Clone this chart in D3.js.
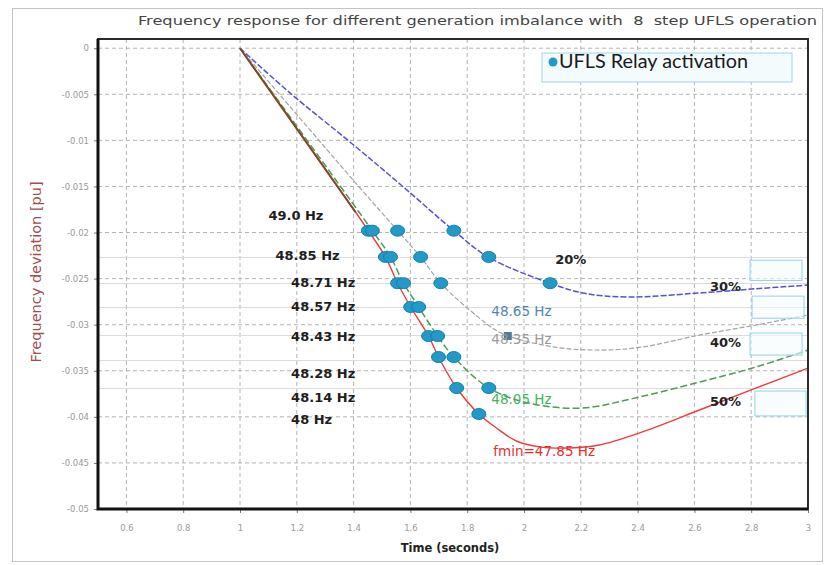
<!DOCTYPE html>
<html>
<head>
<meta charset="utf-8">
<script src="https://cdn.jsdelivr.net/npm/d3@7"></script>
<style>
    body { margin: 0; background: #fff; }
    text { font-family: "DejaVu Sans", sans-serif; }
    .tick-label { fill: #9a9a9a; font-size: 8.5px; }
    .grid { stroke: #b4b4b4; stroke-dasharray: 4 3; stroke-width: 1; }
    .freq-label { font-size: 13px; font-weight: bold; fill: #1e1e1e; }
    .pct-label { font-size: 13px; font-weight: bold; fill: #222; }
</style>
</head>
<body>
<div id="wrapper"></div>
<script>

    // 1. data
    const xTicks = [0.6, 0.8, 1, 1.2, 1.4, 1.6, 1.8, 2, 2.2, 2.4, 2.6, 2.8, 3];
    const xTickLabels = ["0.6", "0.8", "1", "1.2", "1.4", "1.6", "1.8", "2", "2.2", "2.4", "2.6", "2.8", "3"];
    const yTicks = [0, -0.005, -0.01, -0.015, -0.02, -0.025, -0.03, -0.035, -0.04, -0.045, -0.05];
    const yTickLabels = ["0", "-0.005", "-0.01", "-0.015", "-0.02", "-0.025", "-0.03", "-0.035", "-0.04", "-0.045", "-0.05"];

    // [time (s), deviation (pu)]
    const curve20 = [[1, 0], [1.177, -0.00488], [1.4, -0.0105], [1.577, -0.0151], [1.753, -0.0198],
        [1.876, -0.0227], [2.092, -0.0255], [2.214, -0.0266], [2.37, -0.0270], [2.60, -0.0266],
        [2.816, -0.0261], [3.0, -0.0257]];
    const curve30 = [[1, 0], [1.414, -0.01486], [1.555, -0.0198], [1.636, -0.02265], [1.707, -0.0255],
        [1.839, -0.02918], [1.920, -0.03091], [2.108, -0.03243], [2.274, -0.03275], [2.416, -0.03243],
        [2.618, -0.03113], [2.816, -0.03004], [3.0, -0.02896]];
    const curve40 = [[1, 0], [1.466, -0.0198], [1.530, -0.02265], [1.576, -0.0255], [1.629, -0.02808],
        [1.696, -0.03123], [1.753, -0.03351], [1.876, -0.03687], [2.016, -0.0385], [2.204, -0.03905],
        [2.405, -0.03785], [2.618, -0.03623], [2.816, -0.0346], [3.0, -0.03275]];
    const curve50 = [[1, 0], [1.452, -0.0198], [1.512, -0.02265], [1.555, -0.0255], [1.601, -0.02808],
        [1.664, -0.03123], [1.699, -0.03351], [1.763, -0.03687], [1.841, -0.03969], [1.903, -0.04121],
        [1.973, -0.04262], [2.062, -0.04328], [2.18, -0.04335], [2.264, -0.04306], [2.405, -0.04176],
        [2.618, -0.03926], [2.816, -0.03688], [3.0, -0.03471]];
    const initialDrop = [[1, 0], [1.407, -0.0178]];

    const relayDots = [
        [1.452, -0.0198], [1.466, -0.0198], [1.555, -0.0198], [1.753, -0.0198],
        [1.512, -0.02265], [1.530, -0.02265], [1.636, -0.02265], [1.876, -0.02265],
        [1.555, -0.0255], [1.576, -0.0255], [1.707, -0.0255], [2.092, -0.0255],
        [1.601, -0.02808], [1.629, -0.02808],
        [1.664, -0.03123], [1.696, -0.03123],
        [1.699, -0.03351], [1.753, -0.03351],
        [1.763, -0.03687], [1.876, -0.03687],
        [1.841, -0.03969]
    ];
    const squareMarker = [1.943, -0.03123];

    const freqLabels = ["49.0 Hz", "48.85 Hz", "48.71 Hz", "48.57 Hz", "48.43 Hz", "48.28 Hz", "48.14 Hz", "48 Hz"];
    const freqLabelPos = [[1.1, -0.0181], [1.125, -0.02245], [1.18, -0.02545], [1.18, -0.02805],
        [1.18, -0.0313], [1.18, -0.0353], [1.18, -0.0379], [1.18, -0.0403]];

    const pctLabels = ["20%", "30%", "40%", "50%"];
    const pctLabelPos = [[2.11, -0.0229], [2.655, -0.0259], [2.655, -0.0319], [2.655, -0.0383]];

    const minLabels = ["48.65 Hz", "48.35 Hz", "48.05 Hz", "fmin=47.85 Hz"];
    const minLabelPos = [[1.885, -0.0285], [1.885, -0.0316], [1.885, -0.0381], [1.892, -0.0437]];
    const minLabelColors = ["#4f86b8", "#9a9a9a", "#3fb45a", "#e2302f"];

    // faint text-box edges pasted over the chart
    const faintLevels = [-0.02265, -0.0255, -0.02808, -0.03113, -0.0338, -0.03687];
    const pctBoxes = [[2.796, -0.0230, 2.979, -0.0252], [2.803, -0.0269, 2.986, -0.0293],
        [2.796, -0.0309, 2.979, -0.0333], [2.813, -0.0372, 2.993, -0.0399]];

    // 2. dimensions
    const dimensions = {
        width: 829,
        height: 565,
        margin: { top: 39, right: 21, bottom: 56, left: 98 },
    };
    dimensions.boundedWidth = dimensions.width - dimensions.margin.left - dimensions.margin.right;
    dimensions.boundedHeight = dimensions.height - dimensions.margin.top - dimensions.margin.bottom;

    // 3. draw canvas
    const wrapper = d3.select('#wrapper')
        .append('svg')
        .attr('width', dimensions.width)
        .attr('height', dimensions.height);

    wrapper.append('rect')
        .attr('x', 12.5).attr('y', 8.5)
        .attr('width', 810).attr('height', 553)
        .attr('fill', '#fff')
        .attr('stroke', '#c4c4c4');

    wrapper.append('text')
        .attr('x', 138).attr('y', 25)
        .attr('textLength', 679)
        .attr('lengthAdjust', 'spacingAndGlyphs')
        .style('white-space', 'pre')
        .style('font-size', '12.5px')
        .style('fill', '#454545')
        .text('Frequency response for different generation imbalance with  8  step UFLS operation');

    const bounds = wrapper.append('g')
        .attr('transform', `translate(${dimensions.margin.left}, ${dimensions.margin.top})`);

    // 4. scales
    const xScale = d3.scaleLinear().domain([0.5, 3]).range([0, dimensions.boundedWidth]);
    const yScale = d3.scaleLinear().domain([0.001, -0.05]).range([0, dimensions.boundedHeight]);

    // grid
    bounds.selectAll('.grid-x')
        .data(xTicks)
        .enter().append('line')
        .attr('class', 'grid')
        .attr('x1', d => xScale(d)).attr('x2', d => xScale(d))
        .attr('y1', 0).attr('y2', dimensions.boundedHeight);

    bounds.selectAll('.grid-y')
        .data(yTicks)
        .enter().append('line')
        .attr('class', 'grid')
        .attr('x1', 0).attr('x2', dimensions.boundedWidth)
        .attr('y1', d => yScale(d)).attr('y2', d => yScale(d));

    bounds.selectAll('.faint')
        .data(faintLevels)
        .enter().append('line')
        .attr('x1', 0).attr('x2', dimensions.boundedWidth)
        .attr('y1', d => Math.round(yScale(d)) + 0.5).attr('y2', d => Math.round(yScale(d)) + 0.5)
        .attr('stroke', '#dcdcdc');

    // axes
    const xAxis = d3.axisBottom(xScale)
        .tickValues(xTicks)
        .tickFormat((d, i) => xTickLabels[i])
        .tickSize(4).tickPadding(12);
    const yAxis = d3.axisLeft(yScale)
        .tickValues(yTicks)
        .tickFormat((d, i) => yTickLabels[i])
        .tickSize(4).tickPadding(5);

    const xAxisGroup = bounds.append('g')
        .attr('transform', `translate(0, ${dimensions.boundedHeight})`)
        .call(xAxis);
    const yAxisGroup = bounds.append('g').call(yAxis);
    [xAxisGroup, yAxisGroup].forEach(g => {
        g.select('.domain').remove();
        g.selectAll('.tick line').attr('stroke', '#777');
        g.selectAll('.tick text').attr('class', 'tick-label').attr('font-family', null).attr('font-size', null);
    });

    // 5. draw data
    const lineGenerator = d3.line()
        .x(d => xScale(d[0]))
        .y(d => yScale(d[1]))
        .curve(d3.curveCatmullRom.alpha(0.5));

    bounds.append('path')
        .attr('d', lineGenerator(curve30))
        .attr('fill', 'none')
        .attr('stroke', '#a3a3a3')
        .attr('stroke-width', 1.2)
        .attr('stroke-dasharray', '5 2');

    bounds.append('path')
        .attr('d', lineGenerator(curve20))
        .attr('fill', 'none')
        .attr('stroke', '#5252d6')
        .attr('stroke-width', 1.5)
        .attr('stroke-dasharray', '6 2');

    bounds.append('path')
        .attr('d', lineGenerator(curve50))
        .attr('fill', 'none')
        .attr('stroke', '#ee3b3b')
        .attr('stroke-width', 1.4);

    bounds.append('path')
        .attr('d', lineGenerator(curve40))
        .attr('fill', 'none')
        .attr('stroke', '#4f9a55')
        .attr('stroke-width', 1.5)
        .attr('stroke-dasharray', '7 3');

    bounds.append('path')
        .attr('d', d3.line().x(d => xScale(d[0])).y(d => yScale(d[1]))(initialDrop))
        .attr('fill', 'none')
        .attr('stroke', '#7b4a2a')
        .attr('stroke-width', 2);

    bounds.selectAll('.relay')
        .data(relayDots)
        .enter().append('ellipse')
        .attr('cx', d => xScale(d[0]))
        .attr('cy', d => yScale(d[1]))
        .attr('rx', 7).attr('ry', 5.5)
        .attr('fill', '#2299c6')
        .attr('stroke', '#167fa8')
        .attr('stroke-width', 1);

    bounds.append('rect')
        .attr('x', xScale(squareMarker[0]) - 4)
        .attr('y', yScale(squareMarker[1]) - 4)
        .attr('width', 8).attr('height', 8)
        .attr('fill', '#4e7b98');

    // 6. peripherals
    const pageX = d => dimensions.margin.left + xScale(d);
    const pageY = d => dimensions.margin.top + yScale(d);

    wrapper.selectAll('.pct-box')
        .data(pctBoxes)
        .enter().append('rect')
        .attr('x', d => pageX(d[0])).attr('y', d => pageY(d[1]))
        .attr('width', d => pageX(d[2]) - pageX(d[0]))
        .attr('height', d => pageY(d[3]) - pageY(d[1]))
        .attr('fill', '#f6fcfe').attr('fill-opacity', 0.6)
        .attr('stroke', '#8fd3e8');

    wrapper.selectAll('.freq-label')
        .data(freqLabels)
        .enter().append('text')
        .attr('class', 'freq-label')
        .attr('x', (d, i) => pageX(freqLabelPos[i][0]))
        .attr('y', (d, i) => pageY(freqLabelPos[i][1]))
        .attr('dy', '0.35em')
        .text(d => d);

    wrapper.selectAll('.pct-label')
        .data(pctLabels)
        .enter().append('text')
        .attr('class', 'pct-label')
        .attr('x', (d, i) => pageX(pctLabelPos[i][0]))
        .attr('y', (d, i) => pageY(pctLabelPos[i][1]))
        .attr('dy', '0.35em')
        .text(d => d);

    wrapper.selectAll('.min-label')
        .data(minLabels)
        .enter().append('text')
        .attr('x', (d, i) => pageX(minLabelPos[i][0]))
        .attr('y', (d, i) => pageY(minLabelPos[i][1]))
        .attr('dy', '0.35em')
        .style('font-size', '13.5px')
        .style('fill', (d, i) => minLabelColors[i])
        .text(d => d);

    // plot frame
    bounds.append('rect')
        .attr('width', dimensions.boundedWidth)
        .attr('height', dimensions.boundedHeight)
        .attr('fill', 'none')
        .attr('stroke', '#2b2b2b')
        .attr('stroke-width', 2);
    bounds.append('path')
        .attr('d', `M0,0V${dimensions.boundedHeight}H${dimensions.boundedWidth}`)
        .attr('fill', 'none')
        .attr('stroke', '#111')
        .attr('stroke-width', 3);

    // legend
    const legendGroup = wrapper.append('g')
        .attr('transform', 'translate(542, 53)');
    legendGroup.append('rect')
        .attr('width', 250).attr('height', 29)
        .attr('fill', '#f4fbfd')
        .attr('stroke', '#9ed6e6');
    legendGroup.append('circle')
        .attr('cx', 11).attr('cy', 9)
        .attr('r', 4.5)
        .attr('fill', '#2299c6');
    legendGroup.append('text')
        .attr('x', 17).attr('y', 15)
        .attr('textLength', 189)
        .attr('lengthAdjust', 'spacingAndGlyphs')
        .style('font-family', 'Lato, sans-serif')
        .style('font-size', '18.5px')
        .style('fill', '#1a1a1a')
        .text('UFLS Relay activation');

    // axis titles
    wrapper.append('text')
        .attr('transform', 'translate(41, 272) rotate(-90)')
        .attr('text-anchor', 'middle')
        .style('font-size', '14.5px')
        .style('fill', '#a24e4e')
        .text('Frequency deviation [pu]');

    wrapper.append('text')
        .attr('x', 450).attr('y', 552)
        .attr('text-anchor', 'middle')
        .style('font-size', '11.5px')
        .style('font-weight', 'bold')
        .style('fill', '#222')
        .text('Time (seconds)');

</script>
</body>
</html>
